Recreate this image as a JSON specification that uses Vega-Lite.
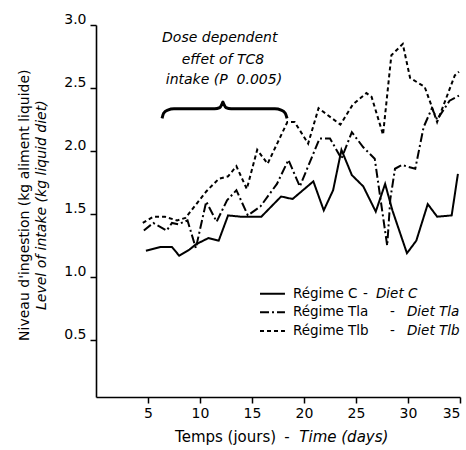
{
  "$schema": "https://vega.github.io/schema/vega-lite/v6.json",
  "width": 364,
  "height": 372,
  "autosize": {"type": "none"},
  "padding": {"left": 96, "top": 25, "right": 6, "bottom": 53},
  "background": "white",
  "config": {
    "view": {"stroke": null},
    "font": "DejaVu Sans",
    "axis": {
      "grid": false,
      "domainColor": "black",
      "domainWidth": 1.6,
      "tickColor": "black",
      "tickWidth": 1.5,
      "labelColor": "black",
      "labelFont": "DejaVu Sans",
      "labelFontSize": 14,
      "title": null
    }
  },
  "datasets": {
    "series": [
      {"s": "C", "x": 4.8, "y": 1.21}, {"s": "C", "x": 6.2, "y": 1.24}, {"s": "C", "x": 7.3, "y": 1.24},
      {"s": "C", "x": 8.0, "y": 1.17}, {"s": "C", "x": 9.0, "y": 1.22}, {"s": "C", "x": 9.6, "y": 1.26},
      {"s": "C", "x": 10.8, "y": 1.31}, {"s": "C", "x": 11.8, "y": 1.29}, {"s": "C", "x": 12.7, "y": 1.49},
      {"s": "C", "x": 13.9, "y": 1.48}, {"s": "C", "x": 15.9, "y": 1.48}, {"s": "C", "x": 17.8, "y": 1.64},
      {"s": "C", "x": 18.9, "y": 1.62}, {"s": "C", "x": 20.9, "y": 1.76}, {"s": "C", "x": 21.9, "y": 1.53},
      {"s": "C", "x": 22.8, "y": 1.69}, {"s": "C", "x": 23.6, "y": 2.01}, {"s": "C", "x": 24.6, "y": 1.81},
      {"s": "C", "x": 25.7, "y": 1.72}, {"s": "C", "x": 26.9, "y": 1.52}, {"s": "C", "x": 27.8, "y": 1.74},
      {"s": "C", "x": 28.5, "y": 1.53}, {"s": "C", "x": 29.9, "y": 1.19}, {"s": "C", "x": 30.8, "y": 1.29},
      {"s": "C", "x": 31.9, "y": 1.58}, {"s": "C", "x": 32.8, "y": 1.48}, {"s": "C", "x": 34.2, "y": 1.49},
      {"s": "C", "x": 34.8, "y": 1.82},
      {"s": "Tla", "x": 4.6, "y": 1.37}, {"s": "Tla", "x": 5.5, "y": 1.43}, {"s": "Tla", "x": 6.8, "y": 1.37},
      {"s": "Tla", "x": 7.3, "y": 1.43}, {"s": "Tla", "x": 7.9, "y": 1.42}, {"s": "Tla", "x": 8.8, "y": 1.45},
      {"s": "Tla", "x": 9.6, "y": 1.23}, {"s": "Tla", "x": 10.6, "y": 1.60}, {"s": "Tla", "x": 11.6, "y": 1.44},
      {"s": "Tla", "x": 12.6, "y": 1.61}, {"s": "Tla", "x": 13.5, "y": 1.69}, {"s": "Tla", "x": 14.6, "y": 1.49},
      {"s": "Tla", "x": 15.8, "y": 1.56}, {"s": "Tla", "x": 17.4, "y": 1.74}, {"s": "Tla", "x": 18.5, "y": 1.93},
      {"s": "Tla", "x": 19.6, "y": 1.72}, {"s": "Tla", "x": 20.4, "y": 1.88}, {"s": "Tla", "x": 21.5, "y": 2.10},
      {"s": "Tla", "x": 22.5, "y": 2.10}, {"s": "Tla", "x": 23.6, "y": 1.94}, {"s": "Tla", "x": 24.6, "y": 2.15},
      {"s": "Tla", "x": 25.7, "y": 2.03}, {"s": "Tla", "x": 26.8, "y": 1.94}, {"s": "Tla", "x": 28.0, "y": 1.25},
      {"s": "Tla", "x": 28.3, "y": 1.62}, {"s": "Tla", "x": 28.75, "y": 1.86}, {"s": "Tla", "x": 29.4, "y": 1.89},
      {"s": "Tla", "x": 30.7, "y": 1.86}, {"s": "Tla", "x": 31.5, "y": 2.19}, {"s": "Tla", "x": 32.3, "y": 2.34},
      {"s": "Tla", "x": 32.8, "y": 2.25}, {"s": "Tla", "x": 34.0, "y": 2.40}, {"s": "Tla", "x": 34.9, "y": 2.44},
      {"s": "Tlb", "x": 4.5, "y": 1.43}, {"s": "Tlb", "x": 5.5, "y": 1.48}, {"s": "Tlb", "x": 6.6, "y": 1.48},
      {"s": "Tlb", "x": 7.8, "y": 1.45}, {"s": "Tlb", "x": 8.6, "y": 1.47}, {"s": "Tlb", "x": 10.6, "y": 1.68},
      {"s": "Tlb", "x": 11.8, "y": 1.78}, {"s": "Tlb", "x": 12.7, "y": 1.80}, {"s": "Tlb", "x": 13.5, "y": 1.88},
      {"s": "Tlb", "x": 14.5, "y": 1.70}, {"s": "Tlb", "x": 15.5, "y": 2.01}, {"s": "Tlb", "x": 16.5, "y": 1.90},
      {"s": "Tlb", "x": 18.4, "y": 2.23}, {"s": "Tlb", "x": 19.1, "y": 2.23}, {"s": "Tlb", "x": 20.4, "y": 2.06},
      {"s": "Tlb", "x": 21.4, "y": 2.34}, {"s": "Tlb", "x": 23.5, "y": 2.21}, {"s": "Tlb", "x": 24.7, "y": 2.37},
      {"s": "Tlb", "x": 26.0, "y": 2.46}, {"s": "Tlb", "x": 26.5, "y": 2.43}, {"s": "Tlb", "x": 27.6, "y": 2.13},
      {"s": "Tlb", "x": 28.4, "y": 2.76}, {"s": "Tlb", "x": 29.5, "y": 2.85}, {"s": "Tlb", "x": 30.2, "y": 2.58},
      {"s": "Tlb", "x": 31.6, "y": 2.51}, {"s": "Tlb", "x": 32.3, "y": 2.35}, {"s": "Tlb", "x": 32.8, "y": 2.23},
      {"s": "Tlb", "x": 34.5, "y": 2.60}, {"s": "Tlb", "x": 34.9, "y": 2.63}
    ],
    "legendLines": [
      {"s": "C", "x": 15.77, "y": 0.869}, {"s": "C", "x": 18.17, "y": 0.869},
      {"s": "Tla", "x": 15.77, "y": 0.722}, {"s": "Tla", "x": 18.17, "y": 0.722},
      {"s": "Tlb", "x": 15.77, "y": 0.574}, {"s": "Tlb", "x": 18.17, "y": 0.574}
    ],
    "brace": [
      {"x": 6.35, "y": 2.26}, {"x": 6.5, "y": 2.30}, {"x": 6.9, "y": 2.325}, {"x": 7.5, "y": 2.335},
      {"x": 11.4, "y": 2.335}, {"x": 11.9, "y": 2.345}, {"x": 12.1, "y": 2.37}, {"x": 12.2, "y": 2.39},
      {"x": 12.3, "y": 2.37}, {"x": 12.5, "y": 2.345}, {"x": 13.0, "y": 2.335}, {"x": 17.2, "y": 2.335},
      {"x": 17.8, "y": 2.325}, {"x": 18.2, "y": 2.30}, {"x": 18.37, "y": 2.26}
    ],
    "uprightLeft": [
      {"x": 18.94, "y": 0.869, "t": "Régime C"},
      {"x": 25.67, "y": 0.869, "t": "-"},
      {"x": 18.94, "y": 0.722, "t": "Régime Tla"},
      {"x": 28.27, "y": 0.722, "t": "-"},
      {"x": 18.94, "y": 0.574, "t": "Régime Tlb"},
      {"x": 28.27, "y": 0.574, "t": "-"}
    ],
    "italicLeft": [
      {"x": 26.92, "y": 0.869, "t": "Diet C"},
      {"x": 29.9, "y": 0.722, "t": "Diet Tla"},
      {"x": 29.9, "y": 0.574, "t": "Diet Tlb"}
    ],
    "xtitleUp": [
      {"x": 7.6, "y": -0.27, "t": "Temps (jours)"},
      {"x": 18.1, "y": -0.27, "t": "-"}
    ],
    "xtitleIt": [
      {"x": 19.55, "y": -0.27, "t": "Time (days)"}
    ],
    "annot": [
      {"x": 11.9, "y": 2.90, "t": "Dose dependent"},
      {"x": 12.2, "y": 2.72, "t": "effet of TC8"},
      {"x": 12.3, "y": 2.565, "t": "intake (P\u00a0\u00a00.005)"}
    ],
    "ytitle1": [{"x": -6.8, "y": 1.571, "t": "Niveau d'ingestion (kg aliment liquide)"}],
    "ytitle2": [{"x": -5.2, "y": 1.571, "t": "Level of intake (kg liquid diet)"}]
  },
  "encoding": {
    "x": {
      "field": "x", "type": "quantitative",
      "scale": {"domain": [0, 35], "nice": false, "zero": false},
      "axis": {"values": [5, 10, 15, 20, 25, 30, 35], "format": "d", "tickSize": 6, "labelPadding": 3}
    },
    "y": {
      "field": "y", "type": "quantitative",
      "scale": {"domain": [0.05, 3.0], "nice": false, "zero": false},
      "axis": {"values": [0.5, 1.0, 1.5, 2.0, 2.5, 3.0], "format": ".1f", "tickSize": 6, "labelPadding": 4, "labelBaseline": "alphabetic", "labelOffset": -2}
    }
  },
  "layer": [
    {
      "data": {"name": "series"},
      "mark": {"type": "line", "color": "black", "strokeWidth": 2, "strokeCap": "butt"},
      "encoding": {
        "detail": {"field": "s"},
        "strokeDash": {"field": "s", "type": "nominal", "scale": {"domain": ["C", "Tla", "Tlb"], "range": [[1, 0], [9, 3, 2, 3], [4, 3]]}, "legend": null}
      }
    },
    {
      "data": {"name": "legendLines"},
      "mark": {"type": "line", "color": "black", "strokeWidth": 2, "strokeCap": "butt"},
      "encoding": {
        "detail": {"field": "s"},
        "strokeDash": {"field": "s", "type": "nominal", "legend": null}
      }
    },
    {
      "data": {"name": "brace"},
      "mark": {"type": "line", "color": "black", "strokeWidth": 3, "interpolate": "monotone"},
      "encoding": {}
    },
    {
      "data": {"name": "uprightLeft"},
      "mark": {"type": "text", "align": "left", "baseline": "middle", "fontSize": 13.5, "font": "DejaVu Sans", "color": "black"},
      "encoding": {"text": {"field": "t"}}
    },
    {
      "data": {"name": "italicLeft"},
      "mark": {"type": "text", "align": "left", "baseline": "middle", "fontSize": 13.5, "fontStyle": "italic", "font": "DejaVu Sans", "color": "black"},
      "encoding": {"text": {"field": "t"}}
    },
    {
      "data": {"name": "xtitleUp"},
      "mark": {"type": "text", "align": "left", "baseline": "middle", "fontSize": 15, "font": "DejaVu Sans", "color": "black"},
      "encoding": {"text": {"field": "t"}}
    },
    {
      "data": {"name": "xtitleIt"},
      "mark": {"type": "text", "align": "left", "baseline": "middle", "fontSize": 15, "fontStyle": "italic", "font": "DejaVu Sans", "color": "black"},
      "encoding": {"text": {"field": "t"}}
    },
    {
      "data": {"name": "annot"},
      "mark": {"type": "text", "align": "center", "baseline": "middle", "fontSize": 14, "fontStyle": "italic", "font": "DejaVu Sans", "color": "black"},
      "encoding": {"text": {"field": "t"}}
    },
    {
      "data": {"name": "ytitle1"},
      "mark": {"type": "text", "align": "center", "baseline": "middle", "angle": 270, "fontSize": 14, "font": "DejaVu Sans", "color": "black"},
      "encoding": {"text": {"field": "t"}}
    },
    {
      "data": {"name": "ytitle2"},
      "mark": {"type": "text", "align": "center", "baseline": "middle", "angle": 270, "fontSize": 14, "fontStyle": "italic", "font": "DejaVu Sans", "color": "black"},
      "encoding": {"text": {"field": "t"}}
    }
  ]
}
